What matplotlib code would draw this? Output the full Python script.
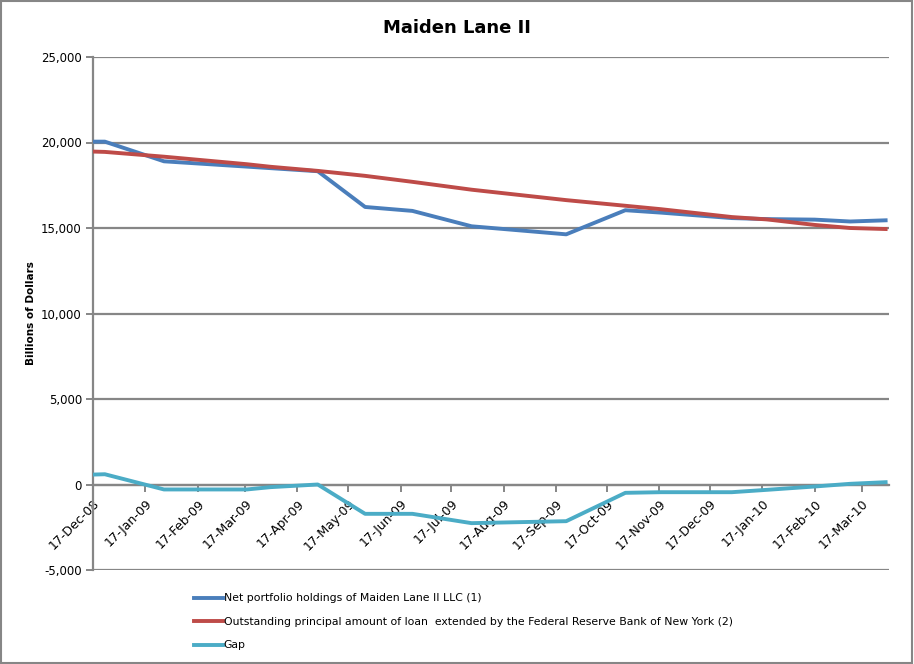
import numpy as np
import pandas as pd
import matplotlib
matplotlib.use("Agg")
import matplotlib.pyplot as plt
from matplotlib.ticker import FuncFormatter, FixedFormatter

plt.rcParams['font.family'] = ['Liberation Sans Narrow', 'DejaVu Sans']

# values (billions of dollars)
dates = pd.to_datetime([
    "2008-12-17", "2008-12-24", "2009-01-28", "2009-03-18", "2009-04-01",
    "2009-04-29", "2009-05-27", "2009-06-24", "2009-07-29", "2009-09-23",
    "2009-10-28", "2009-11-18", "2009-12-30", "2010-01-20", "2010-02-17",
    "2010-03-10", "2010-03-31",
])
net_holdings = [20050, 20050, 18900, 18590, 18500, 18320, 16230, 16000, 15100,
                14630, 16040, 15900, 15580, 15520, 15490, 15380, 15450]
loan_outstanding = [19470, 19450, 19170, 18730, 18580, 18340, 18050, 17700, 17240,
                    16630, 16300, 16100, 15640, 15500, 15180, 15000, 14940]
gap = [580, 600, -290, -290, -155, 0, -1715, -1715, -2260,
       -2145, -487, -450, -450, -310, -117, 40, 135]

tick_dates = pd.to_datetime([
    "2008-12-17", "2009-01-17", "2009-02-17", "2009-03-17", "2009-04-17",
    "2009-05-17", "2009-06-17", "2009-07-17", "2009-08-17", "2009-09-17",
    "2009-10-17", "2009-11-17", "2009-12-17", "2010-01-17", "2010-02-17",
    "2010-03-17",
])
tick_labels = [d.strftime("%d-%b-%y") for d in tick_dates]

series_names = [
    "Net portfolio holdings of Maiden Lane II LLC (1)",
    "Outstanding principal amount of loan  extended by the Federal Reserve Bank of New York (2)",
    "Gap",
]
colors = ["#4A7EBB", "#BE4B48", "#4BACC6"]
grid_col = "#868686"

fig = plt.figure(figsize=(9.14, 6.64), dpi=100)
ax = fig.add_axes([93 / 914, 1 - 570 / 664, (889 - 93) / 914, (570 - 57) / 664])

for vals, name, c in zip([net_holdings, loan_outstanding, gap], series_names, colors):
    ax.plot(dates, vals, color=c, lw=2.8, label=name, solid_joinstyle='round', zorder=3)

ax.set_ylim(-5000, 25000)
ax.set_yticks(np.arange(-5000, 25001, 5000))
ax.yaxis.set_major_formatter(FuncFormatter(lambda v, p: f"{int(v):,}"))
ax.set_xlim(pd.Timestamp("2008-12-17"), pd.Timestamp("2010-04-02"))
ax.set_xticks(tick_dates)
ax.xaxis.set_major_formatter(FixedFormatter(tick_labels))

ax.grid(axis='y', color=grid_col, lw=1.6, zorder=1)
for s in ["top", "right"]:
    ax.spines[s].set_visible(False)
ax.spines["bottom"].set_position(("data", 0))
ax.spines["bottom"].set_color(grid_col)
ax.spines["bottom"].set_linewidth(1.6)
ax.spines["left"].set_color(grid_col)
ax.spines["left"].set_linewidth(1.6)
ax.tick_params(axis='both', colors=grid_col, width=1.4, length=5, labelcolor="black")
ax.tick_params(axis='y', labelsize=8.5, pad=3)
ax.tick_params(axis='x', pad=4, labelsize=9, labelrotation=45)

ax.set_ylabel("Billions of Dollars", fontsize=7.5, fontweight="bold", labelpad=4)
fig.text(0.5, 1 - 28 / 664, "Maiden Lane II", ha="center", va="center",
         fontsize=13, fontweight="bold")

fig.legend(loc="upper left", bbox_to_anchor=(190 / 914, 1 - 589 / 664),
           frameon=False, fontsize=7.8, handlelength=2.6, handletextpad=0.1,
           labelspacing=1.25, borderaxespad=0)

fig.patches.append(plt.Rectangle((0.001, 0.001), 0.997, 0.997, transform=fig.transFigure,
                                 fill=False, edgecolor=grid_col, lw=1.5))

fig.canvas.draw()
for lbl in ax.get_xticklabels():
    lbl.set_rotation(45)
    lbl.set_ha("right")
    lbl.set_va("top")
    lbl.set_rotation_mode("anchor")

fig.savefig("out.png", dpi=100)
